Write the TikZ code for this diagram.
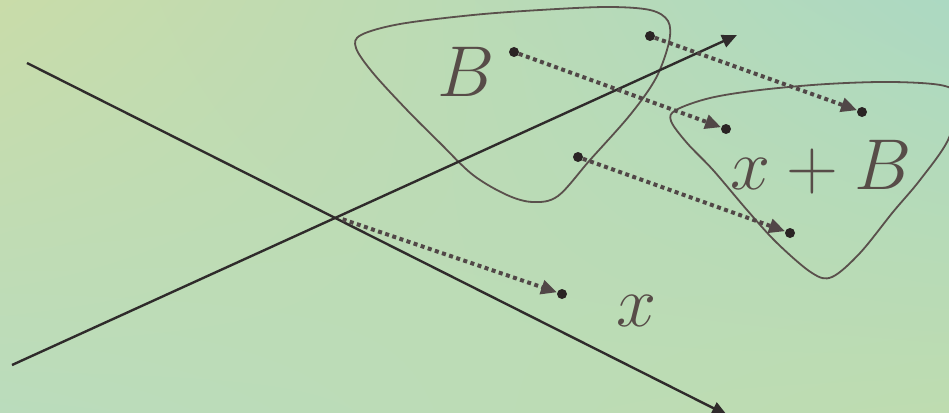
\documentclass[tikz,border=0pt]{standalone}
\usepackage{xcolor}
\usetikzlibrary{arrows.meta,shadings,positioning}
\definecolor{axisink}{HTML}{2F2B2B}
\definecolor{blobink}{HTML}{5A504C}
\definecolor{dotink}{HTML}{514747}
\definecolor{spotink}{HTML}{2A2424}
\definecolor{labelink}{HTML}{574C48}

\begin{document}
\begin{tikzpicture}[x=1pt,y=-1pt,
  axis/.style={draw=axisink,line width=2.4pt,-{Triangle[length=15pt,width=13pt]}},
  blob/.style={draw=blobink,line width=1.8pt},
  spot/.style={circle,fill=spotink,inner sep=0pt,minimum size=10pt},
  transl/.style={draw=dotink,line width=4pt,dash pattern=on 4pt off 3.5pt,-{Triangle[length=16pt,width=14pt,fill=dotink]}},
  lbl/.style={text=labelink,font=\Huge,scale=2.894,inner sep=0pt}
]
\useasboundingbox (0,0) rectangle (949,412);
\clip (0,0) rectangle (949,412);
% background
\fill[upper left={rgb,255:red,201;green,220;blue,169},upper right={rgb,255:red,172;green,217;blue,194},
  lower left={rgb,255:red,186;green,220;blue,188},lower right={rgb,255:red,190;green,220;blue,176}]
  (0,0) rectangle (949,412);

% the set B and its translate
\draw[blob] plot[smooth cycle,tension=0.55] coordinates {(361,35) (400,24) (473,15) (540,10) (607,7) (650,10) (668,21)
  (669,42) (656,78) (630,115) (590,160) (558,196) (533,202) (507,195) (473,175) (440,143) (407,110) (373,73) (356,48)};
\draw[blob] plot[smooth cycle,tension=0.55] coordinates {(676,110) (710,98) (760,90) (827,84) (893,82) (945,86)
  (958,100) (948,140) (920,180) (893,212) (860,253) (832,277) (812,273) (777,243) (747,210) (713,170) (687,143) (671,121)};

% axes
\coordinate (u0) at (27,63);
\coordinate (u1) at (727,415);
\coordinate (v0) at (12,365);
\coordinate (v1) at (737,35);
\coordinate (o) at (336,217);
\draw[axis] (u0) -- (u1);
\draw[axis] (v0) -- (v1);

% points and their images
\node[spot] (b1) at (514,52) {};
\node[spot] (b2) at (650,36) {};
\node[spot] (b3) at (578,157) {};
\node[spot] (c1) at (726,129) {};
\node[spot] (c2) at (862,112) {};
\node[spot] (c3) at (790,233) {};
\node[spot] (xo) at (562,294) {};
\draw[transl] (b1) -- (c1);
\draw[transl] (b2) -- (c2);
\draw[transl] (b3) -- (c3);
\draw[transl,shorten <=7pt] (o) -- (xo);

% labels
\node[lbl] (lb) at (466,72) {$B$};
\node[lbl] (lxb) at (821,167) {$x+B$};
\node[lbl] (lx) at (637,311) {$x$};
\end{tikzpicture}
\end{document}
